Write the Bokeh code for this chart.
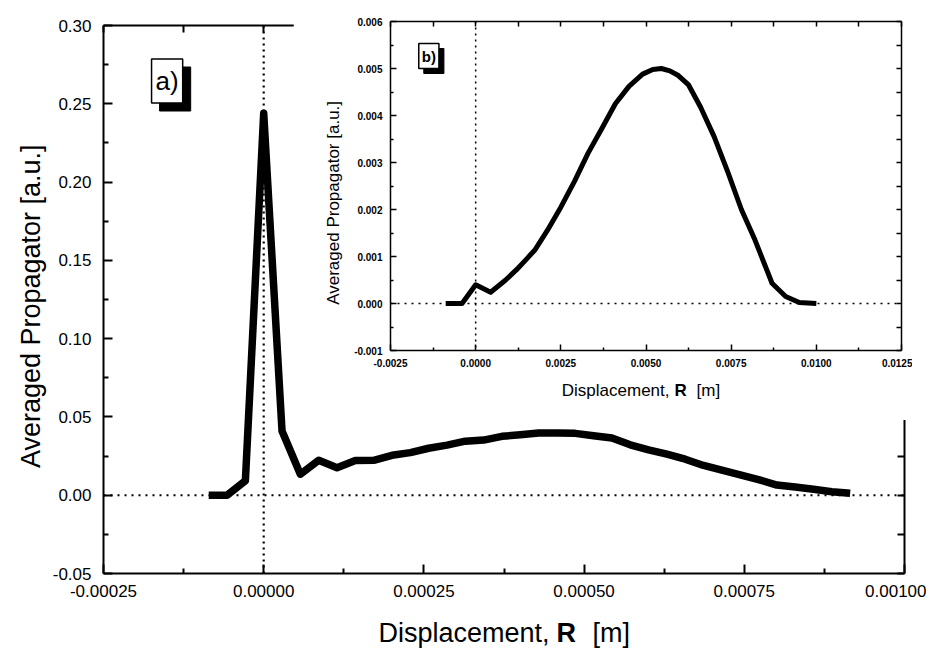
import math
from bokeh.plotting import figure
from bokeh.layouts import column
from bokeh.models import (Range1d, LinearAxis, FixedTicker, PrintfTickFormatter,
                          Span, Label, GridBox, Grid)
from bokeh.embed import file_html
from bokeh.resources import INLINE

FONT = "Liberation Sans"

# ---------------- data ----------------
main_x = [-0.0000858, -0.0000572, -0.0000286, 0.0, 0.0000286, 0.0000572, 0.0000858,
          0.0001144, 0.000143, 0.0001716, 0.0002002, 0.0002288, 0.0002574, 0.000286,
          0.0003146, 0.0003432, 0.0003718, 0.0004004, 0.000429, 0.0004576, 0.0004862,
          0.0005148, 0.0005434, 0.000572, 0.0006006, 0.0006292, 0.0006578, 0.0006864,
          0.000715, 0.0007436, 0.0007722, 0.0008008, 0.0008294, 0.000858, 0.0008866,
          0.0009152]
main_y = [0.000, 0.000, 0.0092, 0.244, 0.041, 0.0134, 0.0223, 0.0175, 0.0222, 0.0223,
          0.0255, 0.0272, 0.0300, 0.0320, 0.0345, 0.0352, 0.0376, 0.0386, 0.0398, 0.0397,
          0.0395, 0.0380, 0.0365, 0.0322, 0.0290, 0.0262, 0.0230, 0.0190, 0.0160, 0.0130,
          0.0100, 0.0065, 0.0052, 0.0038, 0.0022, 0.0012]

inset_x = [-0.00088, -0.00040, 0.0, 0.00044, 0.00088, 0.00120, 0.00150, 0.00175, 0.00210,
           0.00250, 0.00290, 0.00330, 0.00370, 0.00410, 0.00450, 0.00490, 0.00520, 0.00545,
           0.00570, 0.00595, 0.00625, 0.00660, 0.00700, 0.00740, 0.00780, 0.00820, 0.00870,
           0.00910, 0.00950, 0.01000]
inset_y = [0.0, 0.0, 0.00040, 0.00024, 0.00050, 0.00072, 0.00095, 0.00115, 0.00155,
           0.00205, 0.00260, 0.00320, 0.00372, 0.00425, 0.00462, 0.00488, 0.00498, 0.00500,
           0.00495, 0.00485, 0.00465, 0.00418, 0.00355, 0.00280, 0.00200, 0.00135, 0.00043,
           0.00015, 0.00002, 0.0]

main_xticks = [-0.00025, 0.0, 0.00025, 0.0005, 0.00075, 0.001]
main_yticks = [-0.05, 0.0, 0.05, 0.10, 0.15, 0.20, 0.25, 0.30]
inset_xticks = [-0.0025, 0.0, 0.0025, 0.005, 0.0075, 0.01, 0.0125]
inset_yticks = [-0.001, 0.0, 0.001, 0.002, 0.003, 0.004, 0.005, 0.006]

x_title = ["Displacement,", "R", "[m]"]
y_title = "Averaged Propagator  [a.u.]"


def mids(t):
    return [(a + b) / 2 for a, b in zip(t[:-1], t[1:])]


def base_axis(ax, lw):
    ax.major_tick_out = 0
    ax.minor_tick_out = 0
    ax.axis_line_width = lw
    ax.major_tick_line_width = lw
    ax.minor_tick_line_width = lw
    ax.axis_line_color = "black"
    return ax


def label_axis(ticks, fmt, size, bold, tick_in, minor_in, lw, standoff):
    ax = LinearAxis(ticker=FixedTicker(ticks=ticks, minor_ticks=mids(ticks)),
                    formatter=PrintfTickFormatter(format=fmt))
    base_axis(ax, lw)
    ax.major_tick_in = tick_in
    ax.minor_tick_in = minor_in
    ax.major_label_text_font = FONT
    ax.major_label_text_color = "black"
    ax.major_label_text_font_style = "bold" if bold else "normal"
    ax.major_label_text_font_size = size
    ax.major_label_standoff = standoff
    return ax


def plain_axis(ticks, tick_in, lw):
    # frame side with inward ticks only, no tick labels at all
    ax = LinearAxis(ticker=FixedTicker(ticks=[], minor_ticks=sorted(ticks + mids(ticks))))
    base_axis(ax, lw)
    ax.major_tick_in = 0
    ax.minor_tick_in = tick_in
    ax.major_label_standoff = 0
    return ax


def clean(fig):
    fig.outline_line_color = None
    fig.background_fill_color = "white"
    fig.border_fill_color = "white"
    for r in list(fig.center):
        if isinstance(r, Grid):
            r.visible = False


# ---------------- main figure ----------------
W, H = 918, 642
p = figure(width=W, height=H, x_range=Range1d(-0.00025, 0.001), y_range=Range1d(-0.05, 0.30),
           output_backend="svg", toolbar_location=None,
           x_axis_location=None, y_axis_location=None,
           min_border_left=95, min_border_right=22, min_border_top=17, min_border_bottom=77)
clean(p)

p.add_layout(label_axis(main_yticks, "%.2f", "17px", False, 9, 5, 2, 12), "left")
p.add_layout(label_axis(main_xticks, "%.5f", "17px", False, 9, 5, 2, 11), "below")
p.add_layout(plain_axis(main_xticks, 7, 2), "above")
p.add_layout(plain_axis(main_yticks, 7, 2), "right")

p.add_layout(Span(location=0, dimension="width", line_color="black", line_width=2,
                  line_dash="2 5"))
p.add_layout(Span(location=0, dimension="height", line_color="black", line_width=2.2,
                  line_dash="2 4"))

p.line(main_x, main_y, line_color="black", line_width=7.5, line_join="round", line_cap="butt")

# "a)" tag with shadow
p.add_layout(Label(x=-0.000175, y=0.2505, x_offset=8, y_offset=-8, text="a)", text_font=FONT,
                   text_font_size="26px", text_color="black", text_align="left",
                   text_baseline="bottom", background_fill_color="black",
                   border_line_color="black", padding=(4, 7)))
p.add_layout(Label(x=-0.000175, y=0.2505, x_offset=0, y_offset=0, text="a)", text_font=FONT,
                   text_font_size="26px", text_color="black", text_align="left",
                   text_baseline="bottom", background_fill_color="white",
                   border_line_color="black", border_line_width=1.5, padding=(4, 7)))

# ---------------- inset figure ----------------
q = figure(width=619, height=412, x_range=Range1d(-0.0025, 0.0125), y_range=Range1d(-0.001, 0.006),
           output_backend="svg", toolbar_location=None,
           x_axis_location=None, y_axis_location=None,
           min_border_left=97, min_border_right=11, min_border_top=13, min_border_bottom=70)
clean(q)

q.add_layout(label_axis(inset_yticks, "%.3f", "10px", True, 6, 3, 1.5, 8), "left")
q.add_layout(label_axis(inset_xticks, "%.4f", "10px", True, 6, 3, 1.5, 8), "below")
q.add_layout(plain_axis(inset_xticks, 5, 1.5), "above")
q.add_layout(plain_axis(inset_yticks, 5, 1.5), "right")

q.add_layout(Span(location=0, dimension="width", line_color="black", line_width=1.5,
                  line_dash="2 5"))
q.add_layout(Span(location=0, dimension="height", line_color="black", line_width=1.5,
                  line_dash="2 4"))

q.line(inset_x, inset_y, line_color="black", line_width=5, line_join="round", line_cap="butt")

q.add_layout(Label(x=-0.00167, y=0.0050, x_offset=5, y_offset=-5, text="b)", text_font=FONT,
                   text_font_size="15px", text_font_style="bold", text_color="black",
                   text_align="left", text_baseline="bottom", background_fill_color="black",
                   border_line_color="black", padding=(3, 4)))
q.add_layout(Label(x=-0.00167, y=0.0050, x_offset=0, y_offset=0, text="b)", text_font=FONT,
                   text_font_size="15px", text_font_style="bold", text_color="black",
                   text_align="left", text_baseline="bottom", background_fill_color="white",
                   border_line_color="black", border_line_width=1.5, padding=(3, 4)))

# ---------------- transparent overlay for the axis titles ----------------
ov = figure(width=W, height=H, x_range=Range1d(0, W), y_range=Range1d(H, 0),
            output_backend="svg", toolbar_location=None,
            x_axis_location=None, y_axis_location=None, min_border=0)
ov.outline_line_color = None
ov.background_fill_alpha = 0
ov.border_fill_alpha = 0
for r in list(ov.center):
    if isinstance(r, Grid):
        r.visible = False


def title_parts(fig, xr, yc, size, gap, shift):
    fig.add_layout(Label(x=xr, y=yc, x_offset=-gap, text=x_title[0], text_font=FONT,
                         text_font_size=size, text_align="right", text_baseline="middle",
                         text_color="black"))
    fig.add_layout(Label(x=xr, y=yc, text=x_title[1], text_font=FONT, text_font_style="bold",
                         text_font_size=size, text_align="left", text_baseline="middle",
                         text_color="black"))
    fig.add_layout(Label(x=xr, y=yc, x_offset=shift, text=x_title[2], text_font=FONT,
                         text_font_size=size, text_align="left", text_baseline="middle",
                         text_color="black"))


# main titles
ov.add_layout(Label(x=22, y=294, text=y_title, angle=math.pi / 2, text_font=FONT,
                    text_font_size="27px", text_align="center", text_baseline="middle",
                    text_color="black"))
title_parts(ov, 548, 624, "27px", 7, 36)
# inset titles
ov.add_layout(Label(x=325, y=192, text=y_title, angle=math.pi / 2, text_font=FONT,
                    text_font_size="17px", text_align="center", text_baseline="middle",
                    text_color="black"))
title_parts(ov, 666, 382, "17px", 5, 22)

layout = GridBox(children=[(p, 0, 0, 2, 3), (column(q), 0, 1), (column(ov), 0, 0, 2, 3)],
                 rows=["412px", "230px"], cols=["285px", "619px", "14px"],
                 margin=(8, 0, 0, 8))

open("out.html", "w").write(file_html(layout, INLINE))
